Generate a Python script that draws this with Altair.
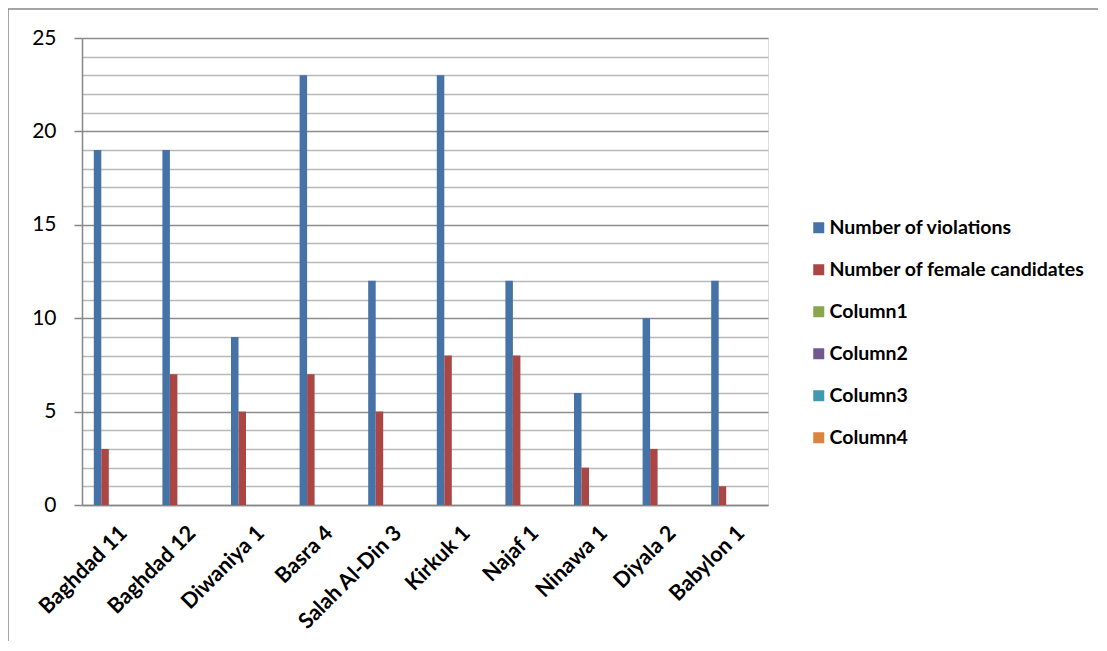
import altair as alt
import pandas as pd

categories = ["Baghdad 11", "Baghdad 12", "Diwaniya 1", "Basra 4", "Salah Al-Din 3",
              "Kirkuk 1", "Najaf 1", "Ninawa 1", "Diyala 2", "Babylon 1"]
violations = [19, 19, 9, 23, 12, 23, 12, 6, 10, 12]
female_candidates = [3, 7, 5, 7, 5, 8, 8, 2, 3, 1]
series_names = ["Number of violations", "Number of female candidates",
                "Column1", "Column2", "Column3", "Column4"]
series_colors = ["#4572A7", "#AA4643", "#89A54E", "#71588F", "#4198AF", "#DB843D"]

rows = []
for c, v in zip(categories, violations):
    rows.append({"category": c, "series": series_names[0], "value": v})
for c, v in zip(categories, female_candidates):
    rows.append({"category": c, "series": series_names[1], "value": v})
df = pd.DataFrame(rows)

FONT = "Lato"

bars = alt.Chart(df).mark_bar(clip=False).encode(
    x=alt.X("category:N", sort=categories, title=None,
            scale=alt.Scale(paddingInner=0.344, paddingOuter=0.172),
            axis=alt.Axis(labelAngle=-45, labelFont=FONT, labelFontWeight="bold",
                          labelFontSize=21.5, labelColor="#000000", ticks=False,
                          labelPadding=17, domainColor="#868686", domainWidth=1.5,
                          grid=False, labelLimit=300)),
    xOffset=alt.XOffset("series:N", scale=alt.Scale(domain=series_names,
                                                     paddingInner=0, paddingOuter=0)),
    y=alt.Y("value:Q", title=None,
            scale=alt.Scale(domain=[0, 25], nice=False),
            axis=alt.Axis(values=list(range(0, 26)),
                          labelExpr="datum.value % 5 === 0 ? datum.label : ''",
                          labelFont=FONT, labelFontSize=21, labelColor="#000000",
                          labelPadding=18, tickSize=8,
                          tickColor={"condition": {"test": "datum.value % 5 === 0", "value": "#868686"}, "value": "transparent"},
                          tickWidth=1.5,
                          gridColor={"condition": {"test": "datum.value % 5 === 0", "value": "#8C8C8C"}, "value": "#B8B8B8"},
                          gridWidth=1.5, domainColor="#868686", domainWidth=1.5)),
    color=alt.Color("series:N",
                    scale=alt.Scale(domain=series_names, range=series_colors),
                    legend=alt.Legend(title=None, orient="none", legendX=727, legendY=180,
                                      symbolType="square", symbolSize=121,
                                      symbolStrokeWidth=0, labelFont=FONT,
                                      labelFontWeight="bold", labelFontSize=19.5,
                                      labelColor="#000000", rowPadding=21,
                                      labelOffset=1, labelLimit=400)),
)

frame = alt.Chart(pd.DataFrame({"k": [0]})).mark_rect(
    fill=None, stroke="#888888", strokeWidth=1.5, clip=False
).encode(
    x=alt.value(-74), x2=alt.value(1300), y=alt.value(-29), y2=alt.value(900)
)

chart = alt.layer(frame, bars).properties(
    width=686, height=467,
    autosize=alt.AutoSizeParams(type="none"),
    padding={"left": 74, "top": 30, "right": 330, "bottom": 136},
).configure_view(stroke=None).configure(background="white")

chart.save("out.html", embed_options={"renderer": "svg", "actions": False})
